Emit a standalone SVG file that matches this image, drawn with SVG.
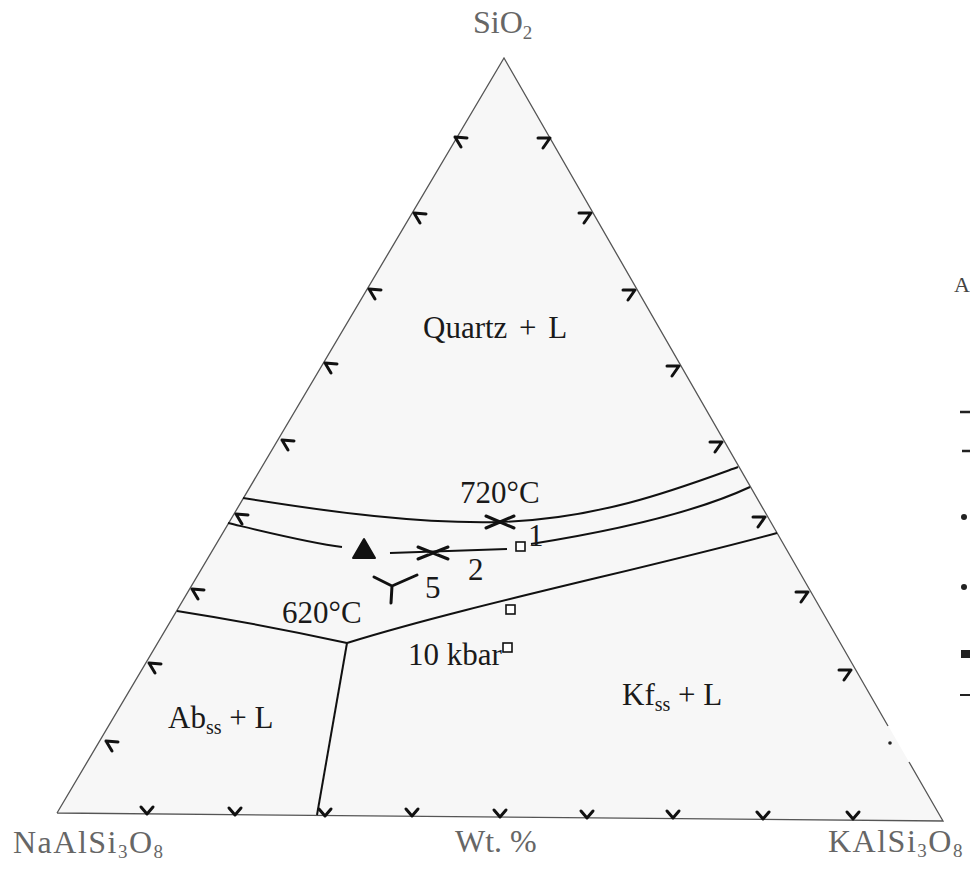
<svg xmlns="http://www.w3.org/2000/svg" width="970" height="871" viewBox="0 0 970 871">
<style>
.edge{fill:none;stroke:#555;stroke-width:1.3}
.bd{fill:none;stroke:#111;stroke-width:2}
.tk{fill:none;stroke:#111;stroke-width:3;stroke-linecap:round;stroke-linejoin:round}
.lbl{font-family:"Liberation Serif","Times New Roman",serif;font-size:31px;fill:#1a1a1a}
.ax{font-family:"Liberation Serif","Times New Roman",serif;font-size:32px;fill:#666}
.sq{fill:#fff;stroke:#111;stroke-width:1.6}
</style>
<defs>
<path id="tl" d="M0,0 L12,1 M0,0 L6,10"/>
<path id="tr" d="M0,0 L-12,0 M0,0 L-7,10"/>
<path id="tb" d="M-6,-7 L0,0 L6,-7"/>
</defs>
<rect width="970" height="871" fill="#fff"/>
<g id="triangle">
<polygon points="504,58 57,813 943,821" fill="#f7f7f7" stroke="none"/>
<path class="edge" d="M57,813 L504,58 L888,726 M909,762 L943,821 L57,813"/>
<circle cx="890" cy="743" r="1.8" fill="#222"/>
</g>
<g id="ticks" class="tk">
<use href="#tl" x="455" y="137"/>
<use href="#tl" x="414" y="213"/>
<use href="#tl" x="369" y="289"/>
<use href="#tl" x="325" y="363"/>
<use href="#tl" x="282" y="440"/>
<use href="#tl" x="236" y="514"/>
<use href="#tl" x="192" y="589"/>
<use href="#tl" x="149" y="663"/>
<use href="#tl" x="106" y="741"/>
<use href="#tr" x="550" y="138"/>
<use href="#tr" x="591" y="213"/>
<use href="#tr" x="635" y="290"/>
<use href="#tr" x="679" y="366"/>
<use href="#tr" x="722" y="442"/>
<use href="#tr" x="765" y="517"/>
<use href="#tr" x="808" y="592"/>
<use href="#tr" x="851" y="670"/>
<use href="#tb" x="147" y="814"/>
<use href="#tb" x="235" y="815"/>
<use href="#tb" x="325" y="816"/>
<use href="#tb" x="412" y="816"/>
<use href="#tb" x="500" y="817"/>
<use href="#tb" x="587" y="818"/>
<use href="#tb" x="673" y="818"/>
<use href="#tb" x="763" y="819"/>
<use href="#tb" x="853" y="819"/>
</g>
<g id="connectors">
<path class="bd" d="M243,498 C330,512 420,524 500,522 C600,519 680,488 738,467"/>
<path class="bd" d="M228,523 C270,533 310,543 342,547"/>
<path class="bd" d="M390,553 L507,549"/>
<path class="bd" d="M531,544 C600,533 690,515 750,487"/>
<path class="bd" d="M177,611 Q260,624 347,643"/>
<path class="bd" d="M347,643 C470,605 640,570 777,533"/>
<path class="bd" d="M347,643 L317,815"/>
<path class="tk" d="M486,516 L500,522 L486,528 M514,516 L500,522 L514,528"/>
<path class="tk" d="M418,547 L433,553 L418,559 M448,547 L433,553 L448,559"/>
<path class="tk" d="M374,577 L392,586 L417,575 M392,586 L391,603"/>
</g>
<g id="points">
<path d="M364,539 L353,558 L375,558 Z" fill="#111" stroke="#111" stroke-width="2" stroke-linejoin="round"/>
<rect class="sq" x="516" y="542" width="9" height="9"/>
<rect class="sq" x="506" y="605" width="9" height="9"/>
<rect class="sq" x="503" y="643" width="9" height="9"/>
</g>
<g id="labels">
<text class="ax" x="473" y="33" font-size="30">SiO<tspan font-size="19" dy="6">2</tspan></text>
<text class="ax" x="13" y="853" letter-spacing="1.5">NaAlSi<tspan font-size="19" dy="5">3</tspan><tspan dy="-5">O</tspan><tspan font-size="19" dy="5">8</tspan></text>
<text class="ax" x="455" y="852">Wt. %</text>
<text class="ax" x="828" y="852" letter-spacing="1.5">KAlSi<tspan font-size="19" dy="5">3</tspan><tspan dy="-5">O</tspan><tspan font-size="19" dy="5">8</tspan></text>
<text class="lbl" x="423" y="338" word-spacing="4">Quartz + L</text>
<text class="lbl" x="460" y="503">720°C</text>
<text class="lbl" x="282" y="623">620°C</text>
<text class="lbl" x="408" y="665" font-size="30">10 kbar</text>
<text class="lbl" x="168" y="728">Ab<tspan font-size="20" dy="6">ss</tspan><tspan dy="-6"> + L</tspan></text>
<text class="lbl" x="622" y="705">Kf<tspan font-size="20" dy="6">ss</tspan><tspan dy="-6"> + L</tspan></text>
<text class="lbl" x="528" y="546" font-size="28">1</text>
<text class="lbl" x="468" y="580" font-size="28">2</text>
<text class="lbl" x="425" y="598" font-size="28">5</text>
</g>
<g id="edge-fragments">
<text x="954" y="292" font-family="Liberation Serif, serif" font-size="22" fill="#444">A</text>
<path d="M960,412 L970,412 M962,451 L970,451" stroke="#222" stroke-width="2.5"/>
<circle cx="964" cy="517" r="3" fill="#222"/>
<circle cx="964" cy="587" r="3" fill="#222"/>
<rect x="961" y="650" width="9" height="8" fill="#222"/>
<path d="M960,695 L970,695" stroke="#222" stroke-width="2"/>
</g>
</svg>
